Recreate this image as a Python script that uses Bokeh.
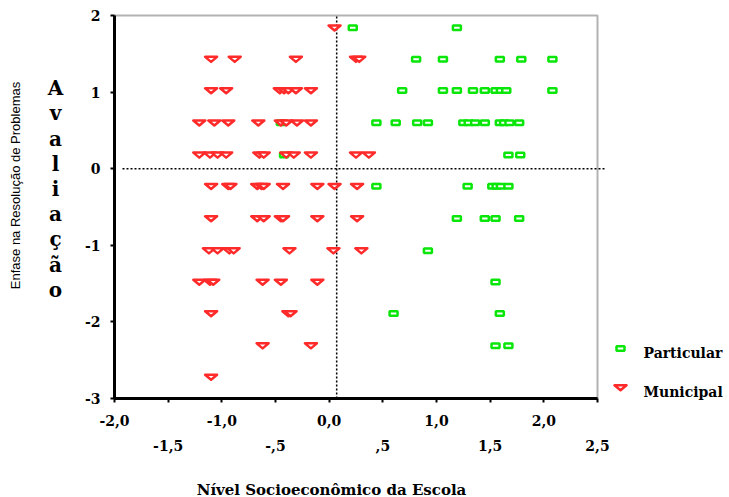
import math

from bokeh.plotting import figure
from bokeh.models import Range1d, FixedTicker, LinearAxis, Label, BoxAnnotation
from bokeh.embed import file_html
from bokeh.resources import INLINE

# Ênfase na resolução de problemas: the discrete score levels (y)
enfase_levels = [1.84, 1.43, 1.02, 0.60, 0.18, -0.23,
                 -0.65, -1.07, -1.48, -1.89, -2.31, -2.72]

# Nível socioeconômico (x) of each school, grouped by score level above
particular_nse = [
    [0.22, 1.19],
    [0.81, 1.06, 1.59, 1.79, 2.08],
    [0.68, 1.06, 1.19, 1.34, 1.45, 1.55, 1.60, 1.65, 2.08],
    [-0.45, 0.44, 0.62, 0.82, 0.92, 1.25, 1.30, 1.36, 1.45, 1.59, 1.63, 1.68, 1.77],
    [-0.42, 1.67, 1.78],
    [0.44, 1.29, 1.52, 1.56, 1.60, 1.67],
    [1.19, 1.45, 1.55, 1.77],
    [0.92],
    [1.55],
    [0.60, 1.59],
    [1.55, 1.67],
    [],
]
municipal_nse = [
    [0.05],
    [-1.10, -0.88, -0.31, 0.25, 0.28],
    [-1.10, -0.96, -0.46, -0.42, -0.38, -0.31, -0.17],
    [-1.21, -1.07, -0.94, -0.66, -0.45, -0.40, -0.30, -0.17],
    [-1.21, -1.11, -1.04, -0.96, -0.65, -0.61, -0.40, -0.33, -0.17, 0.25, 0.37],
    [-1.10, -0.94, -0.92, -0.67, -0.63, -0.61, -0.43, -0.11, 0.05, 0.26],
    [-1.10, -0.67, -0.61, -0.45, -0.43, -0.11, 0.26],
    [-1.12, -1.04, -0.93, -0.89, -0.37, 0.04, 0.30],
    [-1.21, -1.11, -1.08, -0.62, -0.45, -0.11],
    [-1.10, -0.38, -0.36],
    [-0.62, -0.17],
    [-1.10],
]

series_names = ["Particular", "Municipal"]

# Reference lines (means)
mean_nse = 0.07
mean_enfase = 0.0

# Tick labels (Portuguese decimal comma, staggered in two rows)
x_integer_labels = {-2: "-2,0", -1: "-1,0", 0: "0,0", 1: "1,0", 2: "2,0"}
x_half_labels = {-1.5: "-1,5", -0.5: "-,5", 0.5: ",5", 1.5: "1,5", 2.5: "2,5"}
y_tick_labels = {2: "2", 1: "1", 0: "0", -1: "-1", -2: "-2", -3: "-3"}

RED = "#ff2a2a"
GREEN = "#0ae60a"
SERIF = "DejaVu Serif"
SANS = "Liberation Sans"

# Canvas and the pixel box occupied by the axes
W, H = 729, 497
BOX_L, BOX_R, BOX_T, BOX_B = 114, 597, 15, 398
X_START, X_END = -2.0, 2.5
Y_START, Y_END = -3.0, 2.0
PX_PER_X = (BOX_R - BOX_L) / (X_END - X_START)
PX_PER_Y = (BOX_B - BOX_T) / (Y_END - Y_START)


def at_x(px):
    """Canvas pixel column -> data x."""
    return X_START + (px - BOX_L) / PX_PER_X


def at_y(py):
    """Canvas pixel row -> data y."""
    return Y_END - (py - BOX_T) / PX_PER_Y


def flatten(groups):
    xs, ys = [], []
    for level, values in zip(enfase_levels, groups):
        xs += values
        ys += [level] * len(values)
    return xs, ys


part_x, part_y = flatten(particular_nse)
mun_x, mun_y = flatten(municipal_nse)

# Flattened, downward-pointing triangle outline around a centre point
TRI_HALF_W = 6.0 / PX_PER_X
TRI_UP = 2.3 / PX_PER_Y
TRI_DOWN = 2.7 / PX_PER_Y


def triangles(xs, ys):
    return ([[x - TRI_HALF_W, x + TRI_HALF_W, x] for x in xs],
            [[y + TRI_UP, y + TRI_UP, y - TRI_DOWN] for y in ys])


tri_xs, tri_ys = triangles(mun_x, mun_y)

# The frame covers the whole canvas; the axes sit at the box edges
p = figure(width=W, height=H,
           x_range=Range1d(at_x(0), at_x(W)), y_range=Range1d(at_y(H), at_y(0)),
           output_backend="svg", toolbar_location=None,
           min_border=0, min_border_left=0, min_border_right=0,
           min_border_top=0, min_border_bottom=0,
           background_fill_color="white", border_fill_color="white",
           outline_line_color=None)
p.xgrid.visible = False
p.ygrid.visible = False


def style_axis(ax):
    ax.axis_line_color = "black"
    ax.axis_line_width = 3
    ax.major_tick_line_color = "black"
    ax.major_tick_line_width = 2
    ax.major_tick_out = 4
    ax.major_tick_in = 0
    ax.minor_tick_line_color = None
    ax.minor_tick_out = 0
    ax.minor_tick_in = 0
    ax.major_label_text_font = SERIF
    ax.major_label_text_font_style = "bold"
    ax.major_label_text_font_size = "14px"
    ax.major_label_text_color = "black"


xa = p.xaxis[0]
style_axis(xa)
xa.fixed_location = Y_START
xa.bounds = (X_START, X_END)
xa.ticker = FixedTicker(ticks=sorted(list(x_integer_labels) + list(x_half_labels)))
xa.major_label_overrides = {**x_integer_labels, **{k: "" for k in x_half_labels}}
xa.major_label_standoff = 12

xa2 = LinearAxis(ticker=FixedTicker(ticks=list(x_half_labels)),
                 major_label_overrides=x_half_labels)
style_axis(xa2)
xa2.fixed_location = Y_START
xa2.bounds = (X_START, X_END)
xa2.axis_line_color = None
xa2.major_tick_line_color = None
xa2.major_tick_out = 0
xa2.major_label_standoff = 41
p.add_layout(xa2, "below")

ya = p.yaxis[0]
style_axis(ya)
ya.fixed_location = X_START
ya.bounds = (Y_START, Y_END)
ya.ticker = FixedTicker(ticks=list(y_tick_labels))
ya.major_label_overrides = y_tick_labels
ya.major_label_standoff = 10

# Plot box (top and right edges; left and bottom are the axes)
p.add_layout(BoxAnnotation(left=X_START, right=X_END, bottom=Y_START, top=Y_END,
                           fill_color=None, fill_alpha=0,
                           line_color="black", line_width=2, level="underlay"))

# Dotted mean lines
p.segment(x0=[mean_nse], y0=[Y_START], x1=[mean_nse], y1=[Y_END],
          line_color="black", line_width=1.5, line_dash="2 2")
p.segment(x0=[at_x(122)], y0=[mean_enfase], x1=[at_x(605)], y1=[mean_enfase],
          line_color="black", line_width=1.5, line_dash="2 2")

# Data marks: private schools (rectangles) below, municipal schools (triangles) on top
square_style = dict(width=8, height=4.5, width_units="screen", height_units="screen",
                    fill_color="white", line_color=GREEN, line_width=2.5)
triangle_style = dict(fill_color="white", line_color=RED, line_width=2.5,
                      line_join="round")

p.rect(part_x, part_y, **square_style)
p.patches(tri_xs, tri_ys, **triangle_style)

# Key, to the right of the box, below the data area
KEY_X = at_x(620)
KEY_TEXT_X = at_x(643)
key_rows = [at_y(348), at_y(387)]
key_text_rows = [at_y(352.7), at_y(391)]

p.rect([KEY_X], [key_rows[0]], **square_style)
key_tri_xs, key_tri_ys = triangles([KEY_X], [key_rows[1]])
p.patches(key_tri_xs, key_tri_ys, **triangle_style)
for name, ky in zip(series_names, key_text_rows):
    p.add_layout(Label(x=KEY_TEXT_X, y=ky, text=name,
                       text_align="left", text_baseline="middle",
                       text_font=SERIF, text_font_style="bold",
                       text_font_size="14px", text_color="black"))

# Axis titles
p.add_layout(Label(x=at_x(14.5), y=at_y(185), text="Enfase na Resolução de Problemas",
                   angle=math.pi / 2, text_align="center", text_baseline="middle",
                   text_font=SANS, text_font_size="13px", text_color="black"))
p.add_layout(Label(x=at_x(55), y=at_y(188.5), text="A\nv\na\nl\ni\na\nç\nã\no",
                   text_align="center", text_baseline="middle",
                   text_font=SERIF, text_font_style="bold", text_font_size="20px",
                   text_line_height=1.05, text_color="black"))
p.add_layout(Label(x=at_x(331), y=at_y(489), text="Nível Socioeconômico da Escola",
                   text_align="center", text_baseline="middle",
                   text_font=SERIF, text_font_style="bold", text_font_size="15px",
                   text_color="black"))

open("out.html", "w").write(file_html(p, INLINE))
